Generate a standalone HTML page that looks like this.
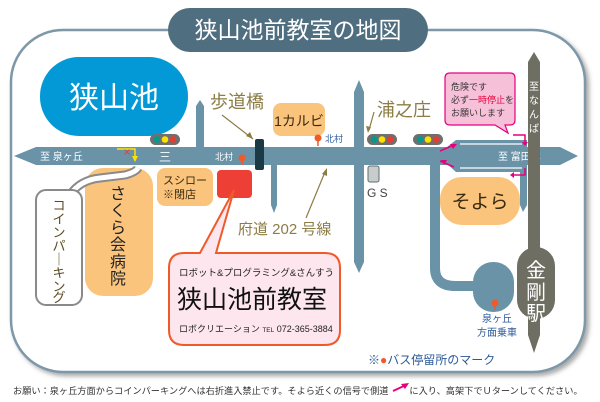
<!DOCTYPE html>
<html><head><meta charset="utf-8"><style>
html,body{margin:0;padding:0;background:#fff;}
svg{display:block;font-family:"Liberation Sans","Noto Sans CJK JP",sans-serif;}
</style></head><body>
<svg width="600" height="402" viewBox="0 0 600 402" xmlns="http://www.w3.org/2000/svg">
<defs><filter id="sh" x="-5%" y="-5%" width="110%" height="110%"><feDropShadow dx="3" dy="3" stdDeviation="2" flood-color="#555" flood-opacity="0.5"/></filter></defs>
<rect x="11" y="30" width="574" height="342" rx="52" fill="#fff" stroke="#7d98a8" stroke-width="2.5" filter="url(#sh)"/>
<rect x="168" y="8" width="260" height="44" rx="22" fill="#4f6e80"/>
<text x="298" y="38" font-size="23" fill="#fff" text-anchor="middle">狭山池前教室の地図</text>
<rect x="40" y="57" width="148" height="79" rx="39" fill="#0299d6"/>
<text x="114" y="108" font-size="30" fill="#fff" text-anchor="middle">狭山池</text>
<path d="M196 150 L196 106 L200 100 L204 106 L204 150Z" fill="#6a93a8"/>
<path d="M271 160 L271 205 L274 213 L277 205 L277 160Z" fill="#6a93a8"/>
<path d="M354 160 L354 92 L359 80 L364 92 L364 262 L359 273 L354 262Z" fill="#6a93a8"/>
<path d="M520 140 L520 205 L523 212 L527 205 L527 140Z" fill="#6a93a8"/>
<path d="M435 160 L435 268 Q435 286 455 286 L480 286" fill="none" stroke="#6a93a8" stroke-width="10"/>
<rect x="473" y="262" width="41" height="50" rx="20" fill="#6a93a8"/>
<path d="M447 147 L456 140 L525 140 L525 147Z" fill="#6a93a8"/>
<path d="M447 164 L456 172 L525 172 L525 164Z" fill="#6a93a8"/>
<line x1="460" y1="144" x2="522" y2="144" stroke="#fff" stroke-width="1.2"/>
<line x1="460" y1="168" x2="522" y2="168" stroke="#fff" stroke-width="1.2"/>
<path d="M14 156 L36 147 L560 147 L578 156 L560 165 L36 165Z" fill="#6a93a8"/>
<text x="40" y="160" font-size="10" fill="#fff">至 泉ヶ丘</text>
<text x="498" y="160" font-size="10" fill="#fff">至 富田林</text>
<text x="159" y="161" font-size="12" fill="#fff">三</text>
<text x="215" y="160" font-size="9" fill="#fff">北村</text>
<path d="M528 62 L534 52 L540 62 L540 335 L534 353 L528 335Z" fill="#6e6f62"/>
<g font-size="10" fill="#fff" text-anchor="middle">
<text x="534" y="90">至</text><text x="534" y="104">な</text><text x="534" y="118">ん</text><text x="534" y="132">ば</text></g>
<rect x="517" y="247" width="38" height="72" rx="19" fill="#6e6f62"/>
<text x="536" y="277" font-size="20" fill="#fff" text-anchor="middle">金</text>
<text x="536" y="299" font-size="20" fill="#fff" text-anchor="middle">剛</text>
<text x="536" y="320" font-size="20" fill="#fff" text-anchor="middle">駅</text>
<g><rect x="150" y="134" width="30" height="11" rx="5.5" fill="#6f6f6f"/><circle cx="157" cy="139.5" r="3.3" fill="#009b8c"/><circle cx="165" cy="139.5" r="3.3" fill="#ffe100"/><circle cx="173" cy="139.5" r="3.3" fill="#e83c32"/></g>
<g><rect x="367" y="134" width="30" height="11" rx="5.5" fill="#6f6f6f"/><circle cx="374" cy="139.5" r="3.3" fill="#009b8c"/><circle cx="382" cy="139.5" r="3.3" fill="#ffe100"/><circle cx="390" cy="139.5" r="3.3" fill="#e83c32"/></g>
<g><rect x="413" y="134" width="30" height="11" rx="5.5" fill="#6f6f6f"/><circle cx="420" cy="139.5" r="3.3" fill="#009b8c"/><circle cx="428" cy="139.5" r="3.3" fill="#ffe100"/><circle cx="436" cy="139.5" r="3.3" fill="#e83c32"/></g>
<path d="M117 149 L135 149 L135 158" fill="none" stroke="#ffe100" stroke-width="1.5"/>
<path d="M132 156 L138 156 L135 162Z" fill="#ffe100"/>
<text x="127" y="156" font-size="12" fill="#e83c32" text-anchor="middle">×</text>
<rect x="273" y="103" width="52" height="33" rx="8" fill="#fbc47c"/>
<text x="299" y="126" font-size="14" fill="#3a2a10" text-anchor="middle">1カルビ</text>
<rect x="157" y="168" width="56" height="38" rx="8" fill="#fbc47c"/>
<text x="163" y="184" font-size="11" fill="#3a2a10">スシロー</text>
<text x="163" y="198" font-size="11" fill="#3a2a10">※閉店</text>
<rect x="85" y="168" width="68" height="128" rx="18" fill="#fbc47c"/>
<g font-size="16" fill="#222" text-anchor="middle">
<text x="118" y="199">さ</text><text x="118" y="216">く</text><text x="118" y="233">ら</text><text x="118" y="250">会</text><text x="118" y="267">病</text><text x="118" y="284">院</text></g>
<rect x="440" y="177" width="80" height="48" rx="22" fill="#fbc47c"/>
<text x="480" y="208" font-size="19" fill="#3a2a10" text-anchor="middle">そよら</text>
<rect x="217" y="170" width="35" height="28" rx="4" fill="#ed3f36"/>
<rect x="255" y="139" width="9" height="31" rx="2" fill="#1c3a45"/>
<path d="M70 195 Q80 180 100 178 L125 175 Q136 172 138 168" fill="none" stroke="#8a8a8a" stroke-width="9"/>
<path d="M70 195 Q80 180 100 178 L125 175 Q136 172 138 168" fill="none" stroke="#fff" stroke-width="5"/>
<rect x="36" y="190" width="46" height="115" rx="10" fill="#fff" stroke="#8a8a8a" stroke-width="2"/>
<g font-size="13" fill="#5a4a20" text-anchor="middle">
<text x="59" y="210">コ</text><text x="59" y="223.5">イ</text><text x="59" y="237">ン</text><text x="59" y="250.5">パ</text><text x="59" y="264">｜</text><text x="59" y="277.5">キ</text><text x="59" y="291">ン</text><text x="59" y="302">グ</text></g>
<rect x="368" y="166" width="11" height="16" rx="2" fill="#c8cdca" stroke="#5d6d75"/>
<text x="367" y="197" font-size="12" fill="#444">G S</text>
<text x="210" y="108" font-size="18" fill="#8c7c45">歩道橋</text>
<line x1="222" y1="115" x2="253" y2="139" stroke="#8c7c45" stroke-width="1.2"/>
<path d="M253 139 L246 136 L250 132Z" fill="#8c7c45"/>
<text x="377" y="116" font-size="18" fill="#8c7c45">浦之庄</text>
<line x1="374" y1="112" x2="369" y2="130" stroke="#8c7c45" stroke-width="1.2"/>
<path d="M368 133 L366 126 L371 127Z" fill="#8c7c45"/>
<text x="238" y="234" font-size="15" fill="#8c7c45">府道 202 号線</text>
<line x1="306" y1="218" x2="325" y2="172" stroke="#8c7c45" stroke-width="1.2"/>
<path d="M327 168 L327 176 L322 174Z" fill="#8c7c45"/>
<line x1="242" y1="157" x2="242" y2="165" stroke="#f05a28" stroke-width="1.5"/>
<circle cx="242" cy="158" r="3.5" fill="#f05a28"/>
<circle cx="318" cy="138" r="3.5" fill="#f05a28"/><line x1="318" y1="138" x2="318" y2="146" stroke="#f05a28" stroke-width="1.5"/>
<text x="325" y="142" font-size="9" fill="#2d5a9a">北村</text>
<circle cx="495" cy="303" r="3.5" fill="#f05a28"/><line x1="495" y1="303" x2="495" y2="310" stroke="#f05a28" stroke-width="1.5"/>
<text x="497" y="322" font-size="10" fill="#2d5a9a" text-anchor="middle">泉ヶ丘</text>
<text x="497" y="336" font-size="10" fill="#2d5a9a" text-anchor="middle">方面乗車</text>
<path d="M450 73 L510 73 Q515 73 515 78 L515 120 Q515 125 510 125 L505 125 L508 133 L495 125 L450 125 Q445 125 445 120 L445 78 Q445 73 450 73Z" fill="#f7c0d9" stroke="#e6007e" stroke-width="1.2"/>
<text x="451" y="90" font-size="9" fill="#333">危険です</text>
<text x="451" y="103" font-size="9" fill="#333">必ず<tspan fill="#e8003a">一時停止</tspan>を</text>
<text x="451" y="116" font-size="9" fill="#333">お願いします</text>
<g stroke="#e6007e" stroke-width="1.5" fill="none">
<line x1="440" y1="151" x2="454" y2="145"/><line x1="440" y1="161" x2="454" y2="167"/>
<path d="M513 135 L525 135 L525 142"/><path d="M525 168 L525 175 L514 175"/>
</g>
<g fill="#e6007e">
<path d="M457 144 L450 144 L453 149Z"/><path d="M441 160 L447 160 L444 165Z"/>
<path d="M522 142 L528 142 L525 146Z"/><path d="M514 172 L514 178 L510 175Z"/>
</g>
<path d="M184 253 L200 253 L234 190 L216 253 L325 253 Q340 253 340 268 L340 330 Q340 345 325 345 L184 345 Q169 345 169 330 L169 268 Q169 253 184 253Z" fill="#fde6ee" stroke="#f05a28" stroke-width="2"/>
<text x="179" y="276" font-size="9.5" fill="#222">ロボット&amp;プログラミング&amp;さんすう</text>
<text x="177" y="308" font-size="25" fill="#111">狭山池前教室</text>
<text x="179" y="332" font-size="9" fill="#222">ロボクリエーション <tspan font-size="6.5">TEL</tspan> 072-365-3884</text>
<text x="368" y="364" font-size="12" fill="#2d5a9a">※<tspan fill="#f05a28">●</tspan>バス停留所のマーク</text>
<text x="13" y="394" font-size="9.2" fill="#333">お願い：泉ヶ丘方面からコインパーキングへは右折進入禁止です。そよら近くの信号で側道　　 に入り、高架下でＵターンしてください。</text>
<line x1="393" y1="391" x2="406" y2="385" stroke="#e6007e" stroke-width="1.8"/>
<path d="M409 383 L401 384 L405 389Z" fill="#e6007e"/>
</svg>
</body></html>
